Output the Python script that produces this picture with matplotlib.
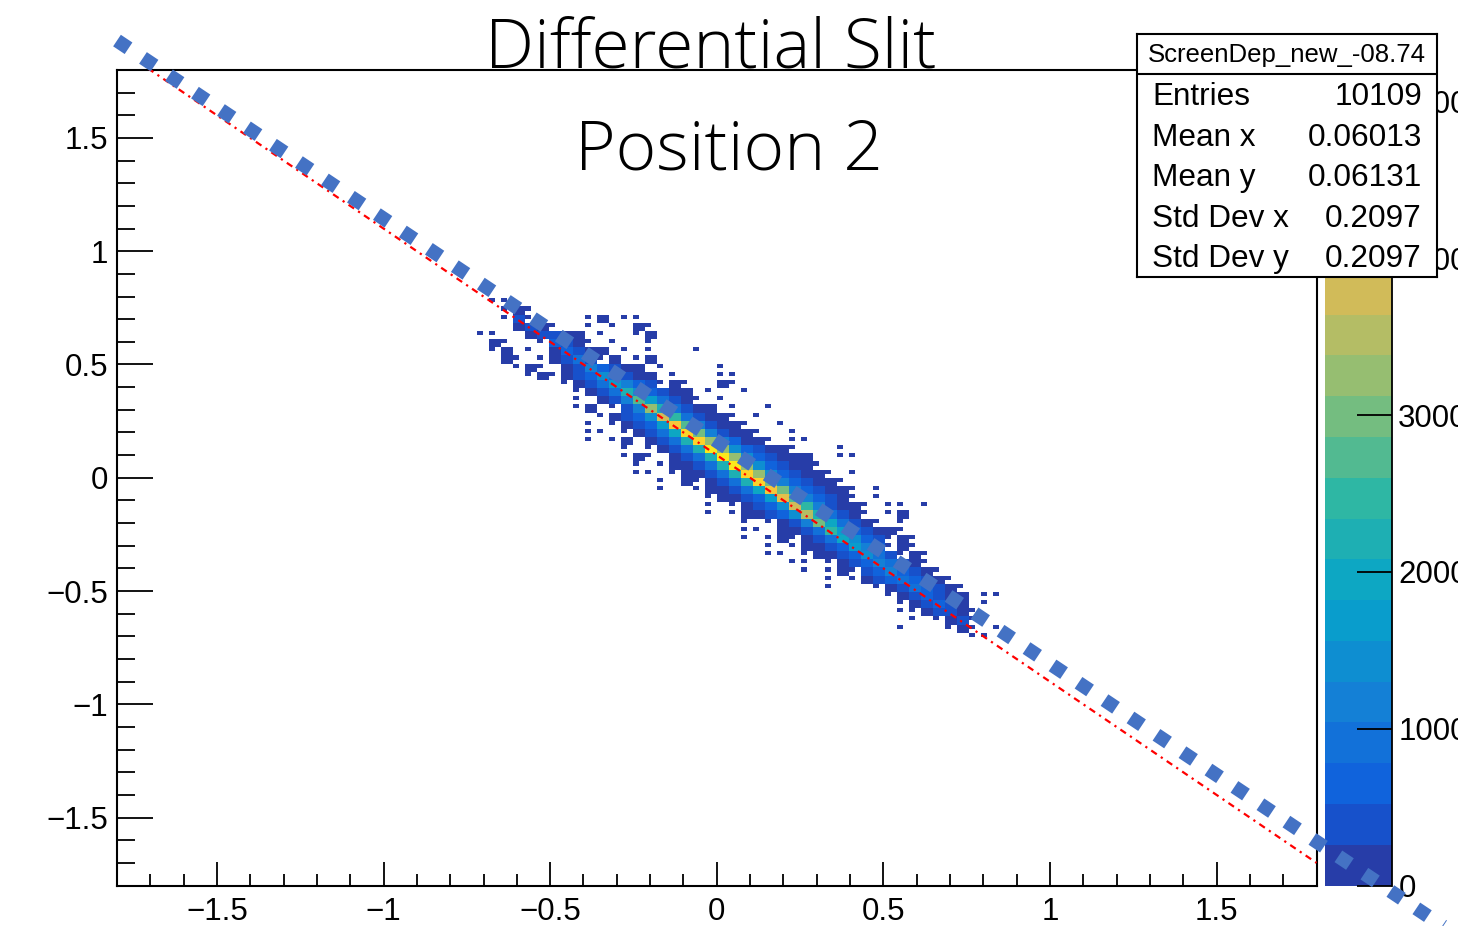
import numpy as np
import matplotlib.pyplot as plt
from matplotlib.colors import LinearSegmentedColormap, ListedColormap, BoundaryNorm
from matplotlib.ticker import MultipleLocator, FuncFormatter

# ---- values ----
# 2D histogram (ROOT "COLZ"), native bins 0.018; the map below uses cells of 2x2 bins
bin_size = 0.018
cell_x0 = -0.72      # left edge of column 0
cell_y0 = 0.792      # top edge of row 0 (rows go downwards)
n_cols = 45
# per cell: '0'-'9','a'-'j' = contour band 0..19 (all 4 bins),
#           ',' = a single lowest-band bin, '.' = empty
cloud_start = [1, 2, 2, 3, 0, 1, 1, 2, 3, 4,
               7, 8, 8, 8, 10, 9, 9, 9, 12, 12,
               13, 13, 15, 15, 19, 19, 19, 22, 22, 22,
               24, 24, 26, 27, 29, 29, 34, 35, 35, 36,
               35, 41]
cloud_rows = [
    ",,",
    ",0,",
    ",1,....,0.,,",
    "010,..,.,.0,",
    ",,..01100.,..,0",
    "0,..,210,.,..,",
    ",0.,.02100.,.,...,",
    "0,.,0131,0.,0",
    ",0,.0142100.,....,",
    ",0,01253100.,...,,",
    ",0136421,0,..0,",
    ",013852100.,..,",
    ",.014a6310,.,",
    ",0.,14c83100.,..,",
    ",0125e93100,.,",
    ",.,0126ga4100,..,",
    ",,.,0137hb4100,..,",
    ",.,0.0138hc4200,.,,",
    ",.,0138ic52100,...,",
    ",0,.0138ic521000..,,",
    ",.,00138ic52100,",
    ",,.,00138hc52100,.,",
    ",.0,0138hb42100,",
    ",..,00137gb42100,.,",
    ",00126fa4210,.,",
    ",.,0125e94100,.,,.,",
    ",.,00125d8310,.,0",
    ",.,014b7310,.,",
    ",,.0013962100,",
    ",.,0,0137521,0,",
    ",.,0012642,0,",
    ",,.,0012531,0,",
    ",,.,0124310,",
    ",.,0,124210,",
    ",.,0123210,",
    ",...,013210,",
    ",012100.,,",
    ",01210.,",
    ",,0110,",
    ",.,01,",
    ",...,0,.,",
    ",,",
]
band_step = 260
n_bands = 20
cbar_ticks = [0, 1000, 2000, 3000, 4000, 5000]

# red fitted line (dash-dot) and blue overlay line
fit_x = [-1.8, 1.8]
fit_slope = -1.0
fit_intercept = 0.10
guide_x = [-1.80, 2.18]
guide_y = [1.93, -1.98]

stats_name = "ScreenDep_new_-08.74"
stats_labels = ["Entries", "Mean x", "Mean y", "Std Dev x", "Std Dev y"]
stats_values = ["10109", "0.06013", "0.06131", "0.2097", "0.2097"]

title_lines = ["Differential Slit", "Position 2"]

# ---- ROOT kBird palette, 20 contour bands ----
bird_stops = [0.0, 0.125, 0.25, 0.375, 0.5, 0.625, 0.75, 0.875, 1.0]
bird_r = [0.2082, 0.0592, 0.0780, 0.0232, 0.1802, 0.5301, 0.8186, 0.9956, 0.9764]
bird_g = [0.1664, 0.3599, 0.5041, 0.6419, 0.7178, 0.7492, 0.7328, 0.7862, 0.9832]
bird_b = [0.5293, 0.8684, 0.8385, 0.7914, 0.6425, 0.4662, 0.3499, 0.1968, 0.0539]
bird = LinearSegmentedColormap.from_list(
    "bird", list(zip(bird_stops, zip(bird_r, bird_g, bird_b))), N=255)
band_colors = [bird(int((b + 0.99) * 255 / n_bands)) for b in range(n_bands)]
band_cmap = ListedColormap(band_colors)
levels = np.arange(n_bands + 1) * band_step
norm = BoundaryNorm(levels, n_bands)

n_rows = len(cloud_rows)
z = np.full((2 * n_rows, 2 * n_cols), np.nan)
for j, (s0, row) in enumerate(zip(cloud_start, cloud_rows)):
    for k, ch in enumerate(row):
        c = 2 * (s0 + k)
        if ch == ',':
            z[2 * j, c] = 0.5 * band_step
        elif ch != '.':
            z[2 * j:2 * j + 2, c:c + 2] = (int(ch, 20) + 0.5) * band_step
x_edges = cell_x0 + bin_size * np.arange(2 * n_cols + 1)
y_edges = cell_y0 - bin_size * np.arange(2 * n_rows + 1)

plt.rcParams['font.family'] = 'Liberation Sans'
W, H = 1458, 926
fig = plt.figure(figsize=(W / 100, H / 100), dpi=100)

ax = fig.add_axes([117 / W, 1 - 885.5 / H, 1199.5 / W, 815.5 / H])
ax.set_zorder(2)
ax.pcolormesh(x_edges, y_edges, np.ma.masked_invalid(z), cmap=band_cmap, norm=norm)

fx = np.array(fit_x)
ax.plot(fx, fit_intercept + fit_slope * fx, color='red', lw=1.6,
        dashes=(3, 2.2, 1, 2.2), zorder=3)
ax.plot(guide_x, guide_y, color='#4472C4', lw=10, dashes=(1.0, 1.25),
        clip_on=False, zorder=4)

ax.set_xlim(-1.8, 1.8)
ax.set_ylim(-1.8, 1.8)

def root_fmt(v, pos):
    v = round(v, 6) + 0.0
    return f"{v:g}".replace('-', '\u2212')

for axis in (ax.xaxis, ax.yaxis):
    axis.set_major_locator(MultipleLocator(0.5))
    axis.set_minor_locator(MultipleLocator(0.1))
    axis.set_major_formatter(FuncFormatter(root_fmt))
ax.tick_params(which='both', direction='in', top=False, right=False,
               width=1.3, labelsize=22.5)
ax.tick_params(axis='x', which='major', length=17, pad=8)
ax.tick_params(axis='x', which='minor', length=8.5)
ax.tick_params(axis='y', which='major', length=26, pad=6.5)
ax.tick_params(axis='y', which='minor', length=13)
for s in ax.spines.values():
    s.set_linewidth(1.5)

# palette (colour scale)
cax = fig.add_axes([1325 / W, 1 - 885.5 / H, 67 / W, 815.5 / H])
cax.set_zorder(1)
cax.pcolormesh([0, 1], levels, np.arange(n_bands).reshape(-1, 1),
               cmap=band_cmap, vmin=-0.5, vmax=n_bands - 0.5)
cax.set_xlim(0, 1)
cax.set_ylim(0, levels[-1])
cax.set_xticks([])
cax.set_yticks(cbar_ticks)
cax.set_yticklabels([str(t) for t in cbar_ticks])
cax.yaxis.tick_right()
cax.tick_params(axis='y', direction='in', length=25, width=1.3, pad=4.5,
                labelsize=22.5)
for name, s in cax.spines.items():
    s.set_visible(name == 'right')
    s.set_linewidth(1.3)

# stats box
sbox = fig.add_axes([1137 / W, 1 - 277 / H, 300 / W, 243 / H])
sbox.set_zorder(3)
sbox.set_xlim(0, 300)
sbox.set_ylim(243, 0)
sbox.set_xticks([])
sbox.set_yticks([])
for s in sbox.spines.values():
    s.set_linewidth(1.5)
sbox.axhline(40.3, color='black', lw=1.5)
sbox.text(150, 27.5, stats_name, ha='center', va='baseline', fontsize=18.5)
for k, (lab, val) in enumerate(zip(stats_labels, stats_values)):
    yb = 71 + 40.6 * k
    sbox.text(15, yb, lab, ha='left', va='baseline', fontsize=22.7)
    sbox.text(285, yb, val, ha='right', va='baseline', fontsize=22.7)

# slide title laid over the plot
fig.text(711 / W, 1 - 67 / H, title_lines[0], ha='center', va='baseline',
         fontsize=50, family='Open Sans', fontweight='light', zorder=10)
fig.text(729 / W, 1 - 170 / H, title_lines[1], ha='center', va='baseline',
         fontsize=50, family='Open Sans', fontweight='light', zorder=10)

fig.savefig("out.png", dpi=100)
